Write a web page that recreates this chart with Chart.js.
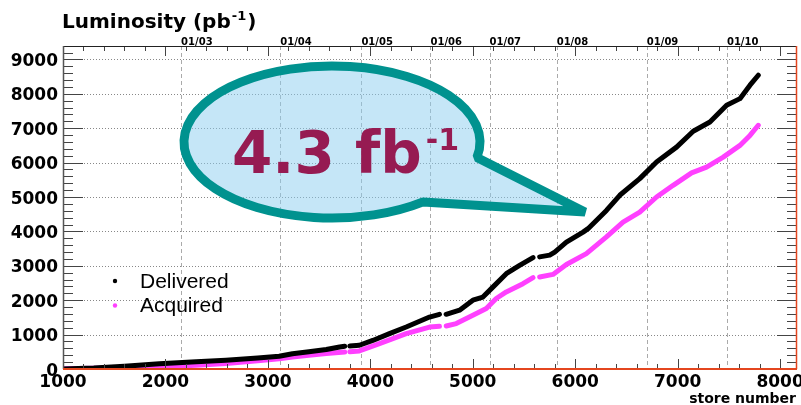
<!DOCTYPE html>
<html>
<head>
<meta charset="utf-8">
<title>Luminosity</title>
<script src="https://cdn.jsdelivr.net/npm/chart.js@4/dist/chart.umd.min.js"></script>
<style>
	html, body { margin: 0; padding: 0; background: #fff; }
	#wrap { width: 801px; height: 405px; }
</style>
</head>
<body>
<div id="wrap"><canvas id="lumicanvas" width="801" height="405"></canvas></div>
<script>
// store number vs integrated luminosity (pb^-1), null = gap in the record
var storeDelivered = [1000, 1300, 1600, 1940, 2300, 2590, 2900, 3110, 3240, 3400, 3570, 3700, 3750, 3775, 3800, 3893, 4024, 4187, 4350, 4578, 4675, 4705, 4740, 4871, 5001, 5099, 5196, 5327, 5457, 5588, 5620, 5653, 5751, 5800, 5914, 6077, 6125, 6305, 6435, 6630, 6794, 6989, 7152, 7315, 7478, 7608, 7706, 7787];
var lumDelivered   = [0, 30, 80, 150, 210, 255, 320, 370, 445, 500, 565, 640, 660, null, 670, 690, 830, 1030, 1220, 1510, 1590, null, 1590, 1710, 2000, 2090, 2380, 2770, 3010, 3240, null, 3260, 3310, 3400, 3690, 3980, 4080, 4610, 5050, 5535, 6020, 6450, 6910, 7180, 7670, 7860, 8250, 8540];
var storeAcquired  = [1000, 1300, 1600, 1940, 2300, 2590, 2900, 3110, 3240, 3400, 3570, 3750, 3775, 3800, 3893, 4089, 4350, 4578, 4675, 4705, 4741, 4839, 5001, 5132, 5229, 5327, 5490, 5588, 5620, 5653, 5783, 5914, 6109, 6305, 6467, 6630, 6794, 6956, 7136, 7282, 7445, 7608, 7706, 7787];
var lumAcquired    = [10, 25, 45, 60, 110, 160, 240, 300, 350, 400, 450, 495, null, 500, 525, 740, 1030, 1220, 1240, null, 1250, 1320, 1560, 1760, 2050, 2240, 2480, 2655, null, 2675, 2750, 3040, 3355, 3840, 4270, 4560, 5000, 5340, 5700, 5870, 6160, 6500, 6790, 7085];

var storeTicks = [1000, 2000, 3000, 4000, 5000, 6000, 7000, 8000];
var lumTicks = [0, 1000, 2000, 3000, 4000, 5000, 6000, 7000, 8000, 9000];
var dateLabels = ['01/03', '01/04', '01/05', '01/06', '01/07', '01/08', '01/09', '01/10'];
var dateStores = [2153, 3121, 3913, 4587, 5164, 5819, 6699, 7481];

function toPoints(xs, ys) {
	var pts = [];
	for (var i in xs) {
		pts.push({x: xs[i], y: ys[i]});
	}
	return pts;
}

var BOLD = '"DejaVu Sans", sans-serif';

var rootStyle = {
	id: 'rootStyle',
	beforeDatasetsDraw: function(chart) {
		var ctx = chart.ctx, a = chart.chartArea;
		var xs = chart.scales.x, ys = chart.scales.y;
		ctx.save();
		// horizontal dotted grid
		ctx.strokeStyle = '#888';
		ctx.lineWidth = 1;
		ctx.setLineDash([1, 2]);
		for (var i = 1; i < lumTicks.length; i++) {
			var py = Math.round(ys.getPixelForValue(lumTicks[i])) + 0.5;
			ctx.beginPath();
			ctx.moveTo(a.left, py);
			ctx.lineTo(a.right, py);
			ctx.stroke();
		}
		// dashed date lines
		ctx.strokeStyle = '#aaa';
		ctx.setLineDash([4, 3]);
		for (var j = 0; j < dateStores.length; j++) {
			var px = Math.round(xs.getPixelForValue(dateStores[j])) + 0.5;
			ctx.beginPath();
			ctx.moveTo(px, a.top);
			ctx.lineTo(px, a.bottom);
			ctx.stroke();
		}
		ctx.restore();
	},
	afterDraw: function(chart) {
		var ctx = chart.ctx, a = chart.chartArea;
		var xs = chart.scales.x, ys = chart.scales.y;
		ctx.save();

		// minor/major ticks, pointing inward
		ctx.strokeStyle = '#444';
		ctx.lineWidth = 1;
		for (var v = 0; v <= ys.max; v += 200) {
			var py = Math.round(ys.getPixelForValue(v)) + 0.5;
			var len = (v % 1000 === 0) ? 20 : 10;
			ctx.beginPath();
			ctx.moveTo(a.left, py); ctx.lineTo(a.left + len, py);
			ctx.moveTo(a.right, py); ctx.lineTo(a.right - len, py);
			ctx.stroke();
		}
		for (var s = 1000; s <= xs.max; s += 200) {
			var px = Math.round(xs.getPixelForValue(s)) + 0.5;
			var l2 = (s % 1000 === 0) ? 10 : 5;
			ctx.beginPath();
			ctx.moveTo(px, a.bottom); ctx.lineTo(px, a.bottom - l2);
			ctx.moveTo(px, a.top); ctx.lineTo(px, a.top + l2);
			ctx.stroke();
		}

		// frame
		ctx.strokeStyle = '#222';
		ctx.beginPath();
		ctx.moveTo(a.left, a.top + 0.5); ctx.lineTo(a.right, a.top + 0.5);
		ctx.stroke();
		ctx.strokeStyle = '#555';
		ctx.lineWidth = 1.5;
		ctx.beginPath();
		ctx.moveTo(a.left + 0.5, a.top); ctx.lineTo(a.left + 0.5, a.bottom);
		ctx.stroke();
		ctx.strokeStyle = '#e4461f';
		ctx.lineWidth = 2;
		ctx.beginPath();
		ctx.moveTo(a.left, a.bottom); ctx.lineTo(a.right, a.bottom);
		ctx.stroke();
		ctx.lineWidth = 1.5;
		ctx.beginPath();
		ctx.moveTo(a.right - 0.5, a.top); ctx.lineTo(a.right - 0.5, a.bottom);
		ctx.stroke();

		// tick labels
		ctx.fillStyle = '#000';
		ctx.font = 'bold 17px ' + BOLD;
		ctx.textAlign = 'right';
		ctx.textBaseline = 'alphabetic';
		for (var i = 0; i < lumTicks.length; i++) {
			ctx.fillText(String(lumTicks[i]), 58, ys.getPixelForValue(lumTicks[i]) + 6.5);
		}
		ctx.textAlign = 'center';
		for (var k = 0; k < storeTicks.length; k++) {
			ctx.fillText(String(storeTicks[k]), xs.getPixelForValue(storeTicks[k]), 386.5);
		}
		ctx.font = 'bold 14px ' + BOLD;
		ctx.textAlign = 'right';
		ctx.fillText('store number', 796, 403);

		// date labels on top
		ctx.font = 'bold 10px ' + BOLD;
		ctx.textAlign = 'left';
		for (var j = 0; j < dateLabels.length; j++) {
			ctx.fillText(dateLabels[j], xs.getPixelForValue(dateStores[j]), 45);
		}

		// title
		ctx.font = 'bold 20px ' + BOLD;
		ctx.fillText('Luminosity (pb', 62, 28);
		var w = ctx.measureText('Luminosity (pb').width;
		ctx.font = 'bold 13px ' + BOLD;
		ctx.fillText('-1', 62 + w + 1, 20);
		var w2 = ctx.measureText('-1').width;
		ctx.font = 'bold 20px ' + BOLD;
		ctx.fillText(')', 62 + w + w2 + 2, 28);

		// legend
		var ds = chart.data.datasets;
		ctx.font = '21px "Liberation Sans", Arial, sans-serif';
		for (var d = 0; d < ds.length; d++) {
			var ly = 281 + d * 24.5;
			ctx.fillStyle = ds[d].borderColor;
			ctx.beginPath();
			ctx.arc(115, ly, 2.2, 0, Math.PI * 2);
			ctx.fill();
			ctx.fillStyle = '#000';
			ctx.fillText(ds[d].label, 140, ly + 6.5);
		}

		// speech bubble
		ctx.beginPath();
		ctx.ellipse(332, 142, 148, 76, 0, 52 * Math.PI / 180, (360 + 11.8) * Math.PI / 180);
		ctx.lineTo(585, 212);
		ctx.closePath();
		ctx.fillStyle = 'rgba(140, 205, 240, 0.5)';
		ctx.fill();
		ctx.lineWidth = 9;
		ctx.lineJoin = 'bevel';
		ctx.strokeStyle = '#00928f';
		ctx.stroke();

		ctx.fillStyle = '#961b52';
		ctx.font = 'bold 58px ' + BOLD;
		ctx.textAlign = 'left';
		ctx.fillText('4.3 fb', 232, 173);
		var bw = ctx.measureText('4.3 fb').width;
		ctx.font = 'bold 30px ' + BOLD;
		ctx.fillText('-1', 232 + bw + 4, 150);

		ctx.restore();
	}
};

var ctx = document.getElementById('lumicanvas');

var lumiChart = new Chart(ctx, {
	type: 'scatter',
	data: {
		datasets: [
			{
				label: 'Delivered',
				data: toPoints(storeDelivered, lumDelivered),
				borderColor: '#000000',
				backgroundColor: '#000000',
				showLine: true,
				spanGaps: false,
				borderWidth: 5,
				pointRadius: 0,
				borderCapStyle: 'round',
				borderJoinStyle: 'round'
			},
			{
				label: 'Acquired',
				data: toPoints(storeAcquired, lumAcquired),
				borderColor: '#ff40ff',
				backgroundColor: '#ff40ff',
				showLine: true,
				spanGaps: false,
				borderWidth: 5,
				pointRadius: 0,
				borderCapStyle: 'round',
				borderJoinStyle: 'round'
			}
		]
	},
	options: {
		responsive: false,
		animation: false,
		devicePixelRatio: 1,
		layout: { padding: { top: 46, right: 4, left: 0, bottom: 0 } },
		plugins: { legend: { display: false }, tooltip: { enabled: false } },
		scales: {
			x: {
				type: 'linear',
				min: 1000,
				max: 8165,
				afterFit: function(s) { s.height = 36; },
				ticks: { display: false },
				grid: { display: false },
				border: { display: false }
			},
			y: {
				type: 'linear',
				min: 0,
				max: 9390,
				afterFit: function(s) { s.width = 63; },
				ticks: { display: false },
				grid: { display: false },
				border: { display: false }
			}
		}
	},
	plugins: [rootStyle]
});
</script>
</body>
</html>
